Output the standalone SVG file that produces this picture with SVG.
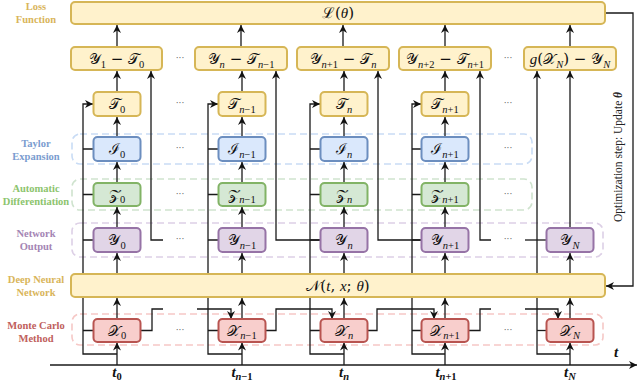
<svg xmlns="http://www.w3.org/2000/svg" width="640" height="383" viewBox="0 0 640 383">
<style>
.bg{fill:#fff}
.band{fill:none;stroke-width:1.6;stroke-dasharray:7 4}
.box{stroke-width:2}
.g{fill:#fff2cc;stroke:#d6b656}
.b{fill:#dae8fc;stroke:#6c8ebf}
.gr{fill:#d5e8d4;stroke:#82b366}
.p{fill:#e1d5e7;stroke:#9673a6}
.r{fill:#f8cecc;stroke:#b85450}
.ln{fill:none;stroke:#1a1a1a;stroke-width:1.3}
.ar{marker-end:url(#ah)}
.m{font-family:"DejaVu Serif","Liberation Serif",serif;font-size:15px;fill:#111;text-anchor:middle}
.i{font-family:"Liberation Serif",serif;font-style:italic}
.s{font-family:"Liberation Serif",serif;font-size:10.5px}
.lab{font-family:"Liberation Serif",serif;font-weight:bold;font-size:10.5px;text-anchor:middle}
.dots{font-family:"DejaVu Sans",sans-serif;font-size:9px;fill:#666;text-anchor:middle}
.tl{font-family:"Liberation Serif",serif;font-style:italic;font-weight:bold;font-size:15px;fill:#111;text-anchor:middle}
</style>
<defs>
<marker id="ah" viewBox="0 0 10 10" refX="10" refY="5" markerWidth="8" markerHeight="8" markerUnits="userSpaceOnUse" orient="auto">
<path d="M0,0 L10,5 L0,10 L3,5 z" fill="#111"/>
</marker>
</defs>
<rect class="bg" width="640" height="383"/>

<g id="bands">
<rect class="band" x="72" y="134" width="460" height="30" rx="8" stroke="#c9dcf5"/>
<rect class="band" x="72" y="179" width="460" height="31" rx="8" stroke="#cfe3ce"/>
<rect class="band" x="72" y="223" width="531" height="34" rx="8" stroke="#ddd0e6"/>
<rect class="band" x="72" y="314" width="531" height="31" rx="8" stroke="#f6c8c6"/>
</g>

<g id="row-labels">
<text class="lab" x="36" fill="#d9b55a"><tspan x="36" y="10">Loss</tspan><tspan x="36" y="23">Function</tspan></text>
<text class="lab" x="36" fill="#7a9ccf"><tspan x="36" y="147">Taylor</tspan><tspan x="36" y="160">Expansion</tspan></text>
<text class="lab" x="36" fill="#8cc46d"><tspan x="36" y="192">Automatic</tspan><tspan x="36" y="205">Differentiation</tspan></text>
<text class="lab" x="36" fill="#a485b4"><tspan x="36" y="237">Network</tspan><tspan x="36" y="250">Output</tspan></text>
<text class="lab" x="36" fill="#d9b55a"><tspan x="36" y="283">Deep Neural</tspan><tspan x="36" y="296">Network</tspan></text>
<text class="lab" x="36" fill="#c0605c"><tspan x="36" y="329">Monte Carlo</tspan><tspan x="36" y="342">Method</tspan></text>
</g>

<g id="connectors">
<!-- time axis -->
<path class="ln ar" d="M50,365 H637"/>
<!-- time into X boxes -->
<path class="ln ar" d="M117,365 V342.5"/>
<path class="ln ar" d="M242,365 V342.5"/>
<path class="ln ar" d="M344,365 V342.5"/>
<path class="ln ar" d="M445,365 V342.5"/>
<path class="ln ar" d="M570,365 V342.5"/>
<!-- time side lines -->
<path class="ln ar" d="M117,354 H83 V104 H93"/>
<path class="ln" d="M83,330.5 H93.5 M83,240 H93.5 M83,194.5 H93.5 M83,149 H93.5"/>
<path class="ln ar" d="M242,354 H208 V104 H218"/>
<path class="ln" d="M208,330.5 H218.5 M208,240 H218.5 M208,194.5 H218.5 M208,149 H218.5"/>
<path class="ln ar" d="M344,354 H310 V104 H320"/>
<path class="ln" d="M310,330.5 H320.5 M310,240 H320.5 M310,194.5 H320.5 M310,149 H320.5"/>
<path class="ln ar" d="M445,354 H412 V104 H421"/>
<path class="ln" d="M412,330.5 H421.5 M412,240 H421.5 M412,194.5 H421.5 M412,149 H421.5"/>
<path class="ln ar" d="M570,354 H537 V71"/>
<path class="ln" d="M537,330.5 H546.5"/>
<!-- vertical stacks -->
<path class="ln ar" d="M117,319 V298"/>
<path class="ln ar" d="M117,274 V253"/>
<path class="ln ar" d="M117,228 V207"/>
<path class="ln ar" d="M117,183 V162"/>
<path class="ln ar" d="M117,137 V117"/>
<path class="ln ar" d="M117,92 V71"/>
<path class="ln ar" d="M117,47 V25"/>
<path class="ln ar" d="M242,319 V298"/>
<path class="ln ar" d="M242,274 V253"/>
<path class="ln ar" d="M242,228 V207"/>
<path class="ln ar" d="M242,183 V162"/>
<path class="ln ar" d="M242,137 V117"/>
<path class="ln ar" d="M242,92 V71"/>
<path class="ln ar" d="M241,47 V25"/>
<path class="ln ar" d="M344,319 V298"/>
<path class="ln ar" d="M344,274 V253"/>
<path class="ln ar" d="M344,228 V207"/>
<path class="ln ar" d="M344,183 V162"/>
<path class="ln ar" d="M344,137 V117"/>
<path class="ln ar" d="M344,92 V71"/>
<path class="ln ar" d="M343,47 V25"/>
<path class="ln ar" d="M445,319 V298"/>
<path class="ln ar" d="M445,274 V253"/>
<path class="ln ar" d="M445,228 V207"/>
<path class="ln ar" d="M445,183 V162"/>
<path class="ln ar" d="M445,137 V117"/>
<path class="ln ar" d="M445,92 V71"/>
<path class="ln ar" d="M445,47 V25"/>
<path class="ln ar" d="M570,319 V298"/>
<path class="ln ar" d="M570,274 V253"/>
<path class="ln ar" d="M570,228 V71"/>
<path class="ln ar" d="M570,47 V25"/>
<!-- X chain -->
<path class="ln" d="M140.5,330.5 H152 V309 H163"/>
<path class="ln ar" d="M197,309 H231 V319"/>
<path class="ln ar" d="M265.5,330.5 H276 V309 H332 V319"/>
<path class="ln ar" d="M367.5,330.5 H377 V309 H434 V319"/>
<path class="ln" d="M468.5,330.5 H480 V309 H491"/>
<path class="ln ar" d="M525,309 H558 V319"/>
<!-- Y chain -->
<path class="ln ar" d="M163,240 H151 V71"/>
<path class="ln ar" d="M320.5,240 H276 V71"/>
<path class="ln ar" d="M421.5,240 H378 V71"/>
<path class="ln ar" d="M491,240 H480 V71"/>
<path class="ln" d="M525,240 H546.5"/>
<!-- feedback -->
<path class="ln ar" d="M605,13 H633 V286 H606"/>
</g>

<g id="loss"><rect class="box g" x="71" y="2" width="534" height="22" rx="4"/>
<text class="m" x="338" y="18">ℒ(<tspan class="i">θ</tspan>)</text></g>

<g id="r0"><rect class="box g" x="71" y="47" width="91" height="23" rx="4"/>
<text class="m" x="116.5" y="64">𝒴<tspan class="s" dy="3.5">1</tspan><tspan dy="-3.5"> − 𝒯</tspan><tspan class="s" dy="3.5">0</tspan></text></g>
<g id="r1"><rect class="box g" x="195" y="47" width="92" height="23" rx="4"/>
<text class="m" x="241" y="64">𝒴<tspan class="s i" dy="3.5">n</tspan><tspan dy="-3.5"> − 𝒯</tspan><tspan class="s" dy="3.5"><tspan class="i">n</tspan>−1</tspan></text></g>
<g id="r2"><rect class="box g" x="297" y="47" width="92" height="23" rx="4"/>
<text class="m" x="343" y="64">𝒴<tspan class="s" dy="3.5"><tspan class="i">n</tspan>+1</tspan><tspan dy="-3.5"> − 𝒯</tspan><tspan class="s i" dy="3.5">n</tspan></text></g>
<g id="r3"><rect class="box g" x="399" y="47" width="92" height="23" rx="4"/>
<text class="m" x="445" y="64">𝒴<tspan class="s" dy="3.5"><tspan class="i">n</tspan>+2</tspan><tspan dy="-3.5"> − 𝒯</tspan><tspan class="s" dy="3.5"><tspan class="i">n</tspan>+1</tspan></text></g>
<g id="r4"><rect class="box g" x="524" y="47" width="92" height="23" rx="4"/>
<text class="m" x="570" y="64"><tspan class="i">g</tspan>(𝒳<tspan class="s i" dy="3.5">N</tspan><tspan dy="-3.5">) − 𝒴</tspan><tspan class="s i" dy="3.5">N</tspan></text></g>

<g id="T0"><rect class="box g" x="93.5" y="92" width="47" height="24" rx="4"/><text class="m" x="117" y="109">𝒯<tspan class="s" dy="3.5">0</tspan></text></g>
<g id="T1"><rect class="box g" x="218.5" y="92" width="47" height="24" rx="4"/><text class="m" x="242" y="109">𝒯<tspan class="s" dy="3.5"><tspan class="i">n</tspan>−1</tspan></text></g>
<g id="T2"><rect class="box g" x="320.5" y="92" width="47" height="24" rx="4"/><text class="m" x="344" y="109">𝒯<tspan class="s i" dy="3.5">n</tspan></text></g>
<g id="T3"><rect class="box g" x="421.5" y="92" width="47" height="24" rx="4"/><text class="m" x="445" y="109">𝒯<tspan class="s" dy="3.5"><tspan class="i">n</tspan>+1</tspan></text></g>

<g id="I0"><rect class="box b" x="93.5" y="137" width="47" height="24" rx="4"/><text class="m" x="117" y="154">ℐ<tspan class="s" dy="3.5">0</tspan></text></g>
<g id="I1"><rect class="box b" x="218.5" y="137" width="47" height="24" rx="4"/><text class="m" x="242" y="154">ℐ<tspan class="s" dy="3.5"><tspan class="i">n</tspan>−1</tspan></text></g>
<g id="I2"><rect class="box b" x="320.5" y="137" width="47" height="24" rx="4"/><text class="m" x="344" y="154">ℐ<tspan class="s i" dy="3.5">n</tspan></text></g>
<g id="I3"><rect class="box b" x="421.5" y="137" width="47" height="24" rx="4"/><text class="m" x="445" y="154">ℐ<tspan class="s" dy="3.5"><tspan class="i">n</tspan>+1</tspan></text></g>

<g id="Z0"><rect class="box gr" x="93.5" y="183" width="47" height="23" rx="4"/><text class="m" x="117" y="199.5">𝒵<tspan class="s" dy="3.5">0</tspan></text></g>
<g id="Z1"><rect class="box gr" x="218.5" y="183" width="47" height="23" rx="4"/><text class="m" x="242" y="199.5">𝒵<tspan class="s" dy="3.5"><tspan class="i">n</tspan>−1</tspan></text></g>
<g id="Z2"><rect class="box gr" x="320.5" y="183" width="47" height="23" rx="4"/><text class="m" x="344" y="199.5">𝒵<tspan class="s i" dy="3.5">n</tspan></text></g>
<g id="Z3"><rect class="box gr" x="421.5" y="183" width="47" height="23" rx="4"/><text class="m" x="445" y="199.5">𝒵<tspan class="s" dy="3.5"><tspan class="i">n</tspan>+1</tspan></text></g>

<g id="Y0"><rect class="box p" x="93.5" y="228" width="47" height="24" rx="4"/><text class="m" x="117" y="245">𝒴<tspan class="s" dy="3.5">0</tspan></text></g>
<g id="Y1"><rect class="box p" x="218.5" y="228" width="47" height="24" rx="4"/><text class="m" x="242" y="245">𝒴<tspan class="s" dy="3.5"><tspan class="i">n</tspan>−1</tspan></text></g>
<g id="Y2"><rect class="box p" x="320.5" y="228" width="47" height="24" rx="4"/><text class="m" x="344" y="245">𝒴<tspan class="s i" dy="3.5">n</tspan></text></g>
<g id="Y3"><rect class="box p" x="421.5" y="228" width="47" height="24" rx="4"/><text class="m" x="445" y="245">𝒴<tspan class="s" dy="3.5"><tspan class="i">n</tspan>+1</tspan></text></g>
<g id="Y4"><rect class="box p" x="546.5" y="228" width="47" height="24" rx="4"/><text class="m" x="570" y="245">𝒴<tspan class="s i" dy="3.5">N</tspan></text></g>

<g id="dnn"><rect class="box g" x="71" y="274" width="534" height="23" rx="4"/>
<text class="m" x="338" y="291">𝒩(<tspan class="i">t</tspan>, <tspan class="i">x</tspan>; <tspan class="i">θ</tspan>)</text></g>

<g id="X0"><rect class="box r" x="93.5" y="319" width="47" height="23" rx="4"/><text class="m" x="117" y="335.5">𝒳<tspan class="s" dy="3.5">0</tspan></text></g>
<g id="X1"><rect class="box r" x="218.5" y="319" width="47" height="23" rx="4"/><text class="m" x="242" y="335.5">𝒳<tspan class="s" dy="3.5"><tspan class="i">n</tspan>−1</tspan></text></g>
<g id="X2"><rect class="box r" x="320.5" y="319" width="47" height="23" rx="4"/><text class="m" x="344" y="335.5">𝒳<tspan class="s i" dy="3.5">n</tspan></text></g>
<g id="X3"><rect class="box r" x="421.5" y="319" width="47" height="23" rx="4"/><text class="m" x="445" y="335.5">𝒳<tspan class="s" dy="3.5"><tspan class="i">n</tspan>+1</tspan></text></g>
<g id="X4"><rect class="box r" x="546.5" y="319" width="47" height="23" rx="4"/><text class="m" x="570" y="335.5">𝒳<tspan class="s i" dy="3.5">N</tspan></text></g>

<g id="ellipses">
<text class="dots" x="180" y="61">···</text><text class="dots" x="508" y="61">···</text>
<text class="dots" x="180" y="106">···</text><text class="dots" x="508" y="106">···</text>
<text class="dots" x="180" y="151">···</text><text class="dots" x="508" y="151">···</text>
<text class="dots" x="180" y="197">···</text><text class="dots" x="508" y="197">···</text>
<text class="dots" x="180" y="242">···</text><text class="dots" x="508" y="242">···</text>
<text class="dots" x="180" y="333">···</text><text class="dots" x="508" y="333">···</text>
</g>

<g id="time-labels">
<text class="tl" x="117" y="377">t<tspan class="s" dy="2.5" font-weight="bold" font-style="normal">0</tspan></text>
<text class="tl" x="242" y="377">t<tspan class="s" dy="2.5" font-weight="bold">n<tspan font-style="normal">−1</tspan></tspan></text>
<text class="tl" x="344" y="377">t<tspan class="s" dy="2.5" font-weight="bold">n</tspan></text>
<text class="tl" x="446" y="377">t<tspan class="s" dy="2.5" font-weight="bold">n<tspan font-style="normal">+1</tspan></tspan></text>
<text class="tl" x="570" y="377">t<tspan class="s" dy="2.5" font-weight="bold">N</tspan></text>
<text class="tl" x="616" y="357">t</text>
</g>

<g id="feedback-label">
<text transform="translate(622,157) rotate(-90)" font-family="Liberation Serif, serif" font-size="11.5" fill="#222" text-anchor="middle">Optimization step: Update <tspan font-weight="bold" font-style="italic">θ</tspan></text>
</g>
</svg>
